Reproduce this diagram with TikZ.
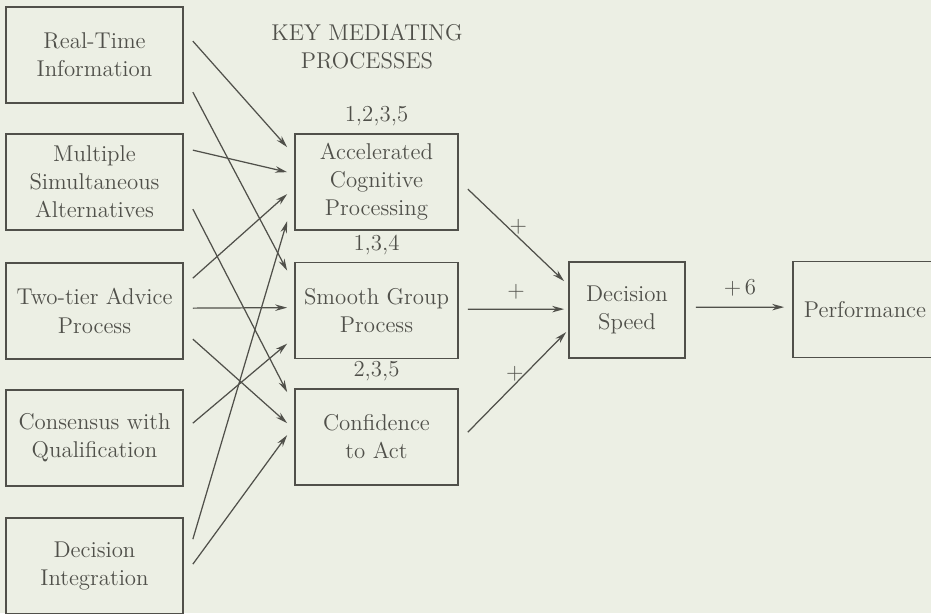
\documentclass[tikz,border=0pt]{standalone}
\usetikzlibrary{arrows.meta,calc,positioning}
\definecolor{paper}{RGB}{236,239,228}
\definecolor{ink}{RGB}{80,80,74}
\begin{document}
\begin{tikzpicture}[x=0.02cm,y=-0.02cm,font=\fontsize{13}{16}\selectfont,
    box/.style={draw=ink,line width=1pt,text=ink,align=center,minimum height=1.92cm,inner sep=2pt},
    src/.style={box,minimum width=3.54cm},
    med/.style={box,minimum width=3.26cm},
    link/.style={draw=ink,line width=0.7pt,-{Stealth[length=2.4mm,width=1.3mm]}},
    tag/.style={text=ink,align=center,inner sep=0pt}]
    \fill[paper] (0,0) rectangle (931,613);
    \useasboundingbox (0,0) rectangle (931,613);
    % features
    \node[src] (rt) at (94.5,55) {Real-Time\\Information};
    \node[src] (msa) at (94.5,182) {Multiple\\Simultaneous\\Alternatives};
    \node[src] (tap) at (94.5,311) {Two-tier Advice\\Process};
    \node[src] (cwq) at (94.5,438) {Consensus with\\Qualification};
    \node[src] (din) at (94.5,566) {Decision\\Integration};
    % mediating processes
    \node[tag] (head) at (367,47) {KEY MEDIATING\\PROCESSES};
    \node[med] (acp) at (376.5,182) {Accelerated\\Cognitive\\Processing};
    \node[med] (sgp) at (376.5,310.5) {Smooth Group\\Process};
    \node[med] (cta) at (376.5,437) {Confidence\\to Act};
    \node[tag,above=0.13cm of acp] (acpn) {1,2,3,5};
    \node[tag,above=0.13cm of sgp] (sgpn) {1,3,4};
    \node[tag,above=0.13cm of cta] (ctan) {2,3,5};
    % outcomes
    \node[box,minimum width=2.32cm] (ds) at (627,310) {Decision\\Speed};
    \node[box,minimum width=2.88cm] (perf) at (865,309.5) {Performance};
    \foreach \s/\a/\t/\b in {rt/35/acp/14,rt/86/sgp/9,msa/17/acp/39,msa/76/cta/4,
        tap/16/acp/61,tap/46/sgp/46,tap/77/cta/35,cwq/34/sgp/82,din/22/acp/88,din/47/cta/47}
        \draw[link] ($(\s.north east)+(9,\a)$) -- ($(\t.north west)+(-7,\b)$);
    \draw[link] ($(acp.north east)+(9,56)$) -- node[tag,pos=0.5,above right=0pt and 0pt,xshift=-4pt] {+} ($(ds.north west)+(-4,20)$);
    \draw[link] ($(sgp.north east)+(9,47.5)$) -- node[tag,above=5pt] {+} ($(ds.north west)+(-4,48)$);
    \draw[link] ($(cta.north east)+(9,44)$) -- node[tag,pos=0.5,above left=0pt and 0pt,xshift=4pt] {+} ($(ds.north west)+(-2,71)$);
    \draw[link] ($(ds.north east)+(10,46)$) -- node[tag,above=6pt] {+\,6} ($(perf.north west)+(-8,46.5)$);
\end{tikzpicture}
\end{document}
